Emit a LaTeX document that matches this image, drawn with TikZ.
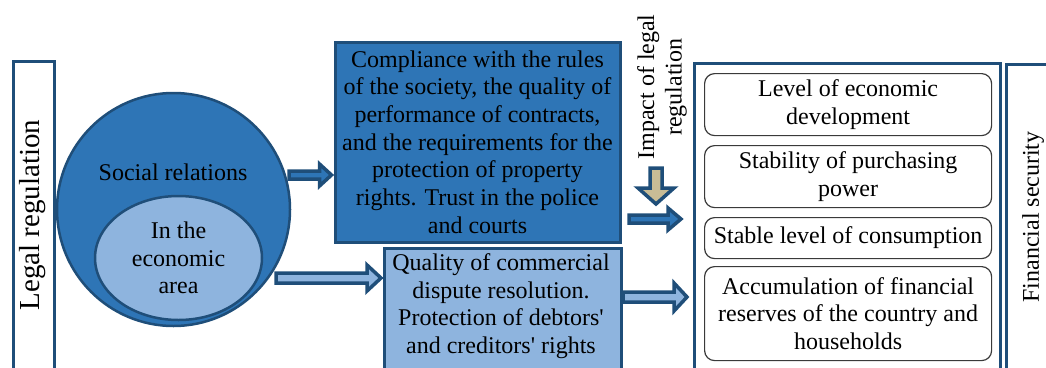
\documentclass[tikz,border=0pt]{standalone}
\usepackage{fontspec}
\setmainfont{Liberation Serif}
\usetikzlibrary{shapes.geometric,calc}
\definecolor{dkblue}{HTML}{1F4E79}
\definecolor{midblue}{HTML}{2E75B6}
\definecolor{ltblue}{HTML}{8EB4DE}
\definecolor{tanfill}{HTML}{C8BC96}
\definecolor{grayline}{HTML}{3A3A3A}
\tikzset{
  every node/.style={font=\fontsize{24}{27.7}\selectfont, text=black},
  outerbox/.style={draw=dkblue, line width=3pt, fill=white, inner sep=0pt},
  itembox/.style={draw=grayline, line width=1.2pt, rounded corners=10pt, fill=white,
    minimum width=287pt, align=center, inner sep=1pt, anchor=north west},
  barrow/.style n args={3}{draw=dkblue, line width=3.5pt, line join=miter,
    to path={let \p1=(\tikztostart), \p2=(\tikztotarget) in
      (\x1,{\y1+#1}) -- ({\x2-#3},{\y1+#1}) -- ({\x2-#3},{\y1+#2}) -- (\x2,\y1)
      -- ({\x2-#3},{\y1-#2}) -- ({\x2-#3},{\y1-#1}) -- (\x1,{\y1-#1}) -- cycle}},
  darrow/.style n args={3}{draw=dkblue, line width=3.5pt, line join=miter,
    to path={let \p1=(\tikztostart), \p2=(\tikztotarget) in
      ({\x1-#1},\y1) -- ({\x1-#1},{\y2+#3}) -- ({\x1-#2},{\y2+#3}) -- (\x1,\y2)
      -- ({\x1+#2},{\y2+#3}) -- ({\x1+#1},{\y2+#3}) -- ({\x1+#1},\y1) -- cycle}},
}
\begin{document}
\begin{tikzpicture}[x=1pt,y=-1pt]
\useasboundingbox (0,0) rectangle (1046,367);
\clip (0,0) rectangle (1046,367);

% left box
\node[outerbox, minimum width=41pt, minimum height=330pt, anchor=north west] (legal) at (12,60) {};
\node[rotate=90, font=\fontsize{29}{32}\selectfont] (legaltxt) at (32.5,215) {Legal regulation};

% circle and ellipse
\node[circle, draw=dkblue, fill=midblue, line width=2.5pt, minimum size=233pt, inner sep=0pt] (soc) at (173.5,209.5) {};
\node (soctxt) at (173,172) {Social relations};
\node[ellipse, draw=dkblue, fill=ltblue, line width=2.5pt, minimum width=167pt, minimum height=124pt,
      inner sep=0pt, align=center] (econ) at (178.5,258) {In the\\economic\\area};

% middle boxes
\node[draw=dkblue, fill=midblue, line width=3pt, minimum width=285pt, minimum height=200pt,
      inner sep=2pt, align=center] (top) at (477.5,142)
  {Compliance with the rules\\of the society, the quality of\\performance of contracts,\\and the requirements for the\\protection of property\\rights. Trust in the police\\and courts};
\node[draw=dkblue, fill=ltblue, line width=3pt, minimum width=237pt, minimum height=140pt,
      inner sep=0pt, anchor=north west] (bot) at (383,247) {};
\node[align=center] (bottxt) at (501,306)
  {Quality of commercial\\dispute resolution.\\Protection of debtors\textquotesingle\\and creditors\textquotesingle{} rights};

% right box
\node[outerbox, minimum width=306pt, minimum height=330pt, anchor=north west] (rbox) at (693,62) {};
\node[itembox, minimum height=62pt] (r1) at (704,73) {Level of economic\\development};
\node[itembox, minimum height=62pt] (r2) at (704,145) {Stability of purchasing\\power};
\node[itembox, minimum height=41pt] (r3) at (704,217) {Stable level of consumption};
\node[itembox, minimum height=94pt] (r4) at (704,266) {Accumulation of financial\\reserves of the country and\\households};

% far right box
\node[outerbox, minimum width=60pt, minimum height=330pt, anchor=north west] (fin) at (1005,63) {};
\node[rotate=90] (fintxt) at (1033,217) {Financial security};

% impact label and down arrow
\node[rotate=90, align=center] (impact) at (662,87) {Impact of legal\\regulation};
\coordinate (d1) at (656,168);
\coordinate (d2) at (656,204);
\draw[darrow={6pt}{18pt}{16pt}, fill=tanfill] (d1) to (d2);

% block arrows
\coordinate (a1s) at (289,175);
\coordinate (a1e) at ($(top.west |- a1s)+(-2,0)$);
\draw[barrow={4pt}{11pt}{12pt}, fill=midblue] (a1s) to (a1e);

\coordinate (a2s) at (276,278);
\coordinate (a2e) at ($(bot.west |- a2s)+(-2,0)$);
\draw[barrow={5pt}{13pt}{14pt}, fill=ltblue] (a2s) to (a2e);

\coordinate (a3s) at (629,219);
\coordinate (a3e) at ($(rbox.west |- a3s)+(-12,0)$);
\draw[barrow={4pt}{11pt}{13pt}, fill=midblue] (a3s) to (a3e);

\coordinate (a4s) at (623,297);
\coordinate (a4e) at ($(rbox.west |- a4s)+(-6,0)$);
\draw[barrow={5pt}{14pt}{13pt}, fill=ltblue] (a4s) to (a4e);
\end{tikzpicture}
\end{document}
